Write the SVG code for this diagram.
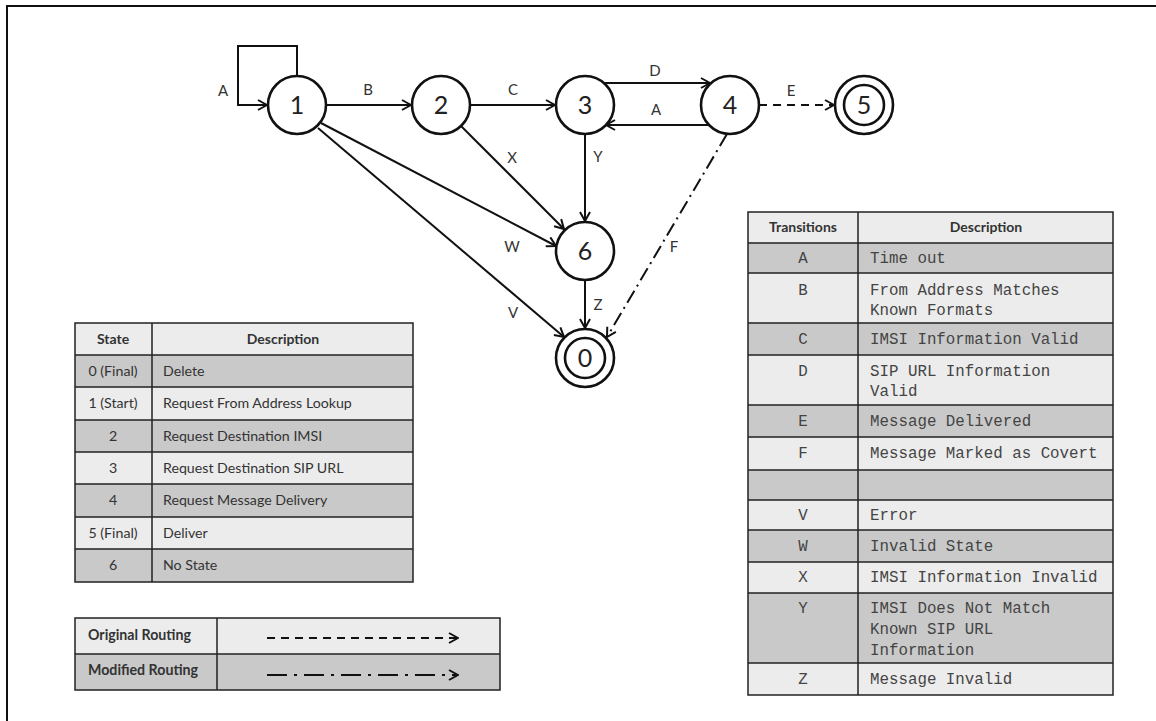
<svg xmlns="http://www.w3.org/2000/svg" width="1156" height="721" viewBox="0 0 1156 721">
<style>
.node{fill:#fff;stroke:#111;stroke-width:2.6}
.nl{font-family:Lato,"Liberation Sans",sans-serif;font-size:25px;fill:#222;text-anchor:middle}
.edge{fill:none;stroke:#111;stroke-width:2}
.dash{stroke-dasharray:8 6}
.dd{stroke-dasharray:14 5 2 5}
.el{font-family:Lato,"Liberation Sans",sans-serif;font-size:15px;fill:#333;text-anchor:middle}
.grid{fill:none;stroke:#222;stroke-width:1.5}
.dark{fill:#c9c9c9}
.light{fill:#ececec}
.st{font-family:Lato,"Liberation Sans",sans-serif;font-size:14.2px;fill:#333}
.sth{font-family:Lato,"Liberation Sans",sans-serif;font-size:14px;font-weight:bold;fill:#333;text-anchor:middle}
.mono{font-family:"Liberation Mono","Courier New",monospace;font-size:15.8px;fill:#444}
.c{text-anchor:middle}
</style>
<defs>
<marker id="arr" viewBox="0 0 12 12" refX="11" refY="6" markerWidth="12" markerHeight="12" markerUnits="userSpaceOnUse" orient="auto">
<path d="M2,1 L11,6 L2,11" fill="none" stroke="#111" stroke-width="2"/>
</marker>
</defs>
<rect width="1156" height="721" fill="#fff"/>
<path d="M7,721 V6 H1156" fill="none" stroke="#111" stroke-width="2"/>

<g id="connectors">
<path class="edge" d="M297,76 V46 H238 V105 H267" marker-end="url(#arr)"/>
<path class="edge" d="M326,105 H411" marker-end="url(#arr)"/>
<path class="edge" d="M471,105 H555" marker-end="url(#arr)"/>
<path class="edge" d="M604,83 H710" marker-end="url(#arr)"/>
<path class="edge" d="M709,125 H606" marker-end="url(#arr)"/>
<path class="edge dash" d="M759,105 H834" marker-end="url(#arr)"/>
<path class="edge" d="M461,126 L564,229" marker-end="url(#arr)"/>
<path class="edge" d="M585,134 V221" marker-end="url(#arr)"/>
<path class="edge" d="M321,123 L556,246" marker-end="url(#arr)"/>
<path class="edge" d="M318,128 L564,337" marker-end="url(#arr)"/>
<path class="edge" d="M585,281 V328" marker-end="url(#arr)"/>
<path class="edge dd" d="M727,134 L607,337" marker-end="url(#arr)"/>
<text class="el" x="223" y="96">A</text>
<text class="el" x="368" y="95">B</text>
<text class="el" x="513" y="95">C</text>
<text class="el" x="655" y="76">D</text>
<text class="el" x="656" y="115">A</text>
<text class="el" x="791" y="96">E</text>
<text class="el" x="512" y="163">X</text>
<text class="el" x="598" y="162">Y</text>
<text class="el" x="512" y="252">W</text>
<text class="el" x="513" y="318">V</text>
<text class="el" x="598" y="310">Z</text>
<text class="el" x="674" y="252">F</text>
</g>

<g id="node1"><circle class="node" cx="297" cy="105" r="29"/><text class="nl" x="297" y="114">1</text></g>
<g id="node2"><circle class="node" cx="441" cy="105" r="29"/><text class="nl" x="441" y="114">2</text></g>
<g id="node3"><circle class="node" cx="585" cy="105" r="29"/><text class="nl" x="585" y="114">3</text></g>
<g id="node4"><circle class="node" cx="730" cy="105" r="29"/><text class="nl" x="730" y="114">4</text></g>
<g id="node5"><circle class="node" cx="864" cy="105" r="29"/><circle class="node" cx="864" cy="105" r="20"/><text class="nl" x="864" y="114">5</text></g>
<g id="node6"><circle class="node" cx="585" cy="251" r="29"/><text class="nl" x="585" y="260">6</text></g>
<g id="node0"><circle class="node" cx="585" cy="358" r="29"/><circle class="node" cx="585" cy="358" r="20"/><text class="nl" x="585" y="367">0</text></g>

<g id="state-table">
<rect class="light" x="75" y="323" width="338" height="32"/>
<rect class="dark" x="75" y="355" width="338" height="32"/>
<rect class="light" x="75" y="387" width="338" height="33"/>
<rect class="dark" x="75" y="420" width="338" height="32"/>
<rect class="light" x="75" y="452" width="338" height="32"/>
<rect class="dark" x="75" y="484" width="338" height="33"/>
<rect class="light" x="75" y="517" width="338" height="32"/>
<rect class="dark" x="75" y="549" width="338" height="33"/>
<path class="grid" d="M75,323 H413 V582 H75 Z M152,323 V582 M75,355 H413 M75,387 H413 M75,420 H413 M75,452 H413 M75,484 H413 M75,517 H413 M75,549 H413"/>
<text class="sth" x="113" y="344">State</text>
<text class="sth" x="283" y="344">Description</text>
<text class="st c" x="113" y="376">0 (Final)</text>
<text class="st c" x="113" y="408">1 (Start)</text>
<text class="st c" x="113" y="441">2</text>
<text class="st c" x="113" y="473">3</text>
<text class="st c" x="113" y="505">4</text>
<text class="st c" x="113" y="538">5 (Final)</text>
<text class="st c" x="113" y="570">6</text>
<text class="st" x="163" y="376">Delete</text>
<text class="st" x="163" y="408">Request From Address Lookup</text>
<text class="st" x="163" y="441">Request Destination IMSI</text>
<text class="st" x="163" y="473">Request Destination SIP URL</text>
<text class="st" x="163" y="505">Request Message Delivery</text>
<text class="st" x="163" y="538">Deliver</text>
<text class="st" x="163" y="570">No State</text>
</g>

<g id="legend">
<rect class="light" x="75" y="618" width="425" height="36"/>
<rect class="dark" x="75" y="654" width="425" height="36"/>
<path class="grid" d="M75,618 H500 V690 H75 Z M217,618 V690 M75,654 H500"/>
<text class="st" x="88" y="640" font-weight="bold">Original Routing</text>
<text class="st" x="88" y="675" font-weight="bold">Modified Routing</text>
<path class="edge dash" d="M267,638 H458" marker-end="url(#arr)"/>
<path class="edge" style="stroke-dasharray:20 7 3 7" d="M267,675 H458" marker-end="url(#arr)"/>
</g>

<g id="transitions-table">
<rect class="light" x="748" y="212" width="365" height="31"/>
<rect class="dark" x="748" y="243" width="365" height="30"/>
<rect class="light" x="748" y="273" width="365" height="50"/>
<rect class="dark" x="748" y="323" width="365" height="32"/>
<rect class="light" x="748" y="355" width="365" height="50"/>
<rect class="dark" x="748" y="405" width="365" height="32"/>
<rect class="light" x="748" y="437" width="365" height="33"/>
<rect class="dark" x="748" y="470" width="365" height="30"/>
<rect class="light" x="748" y="500" width="365" height="30"/>
<rect class="dark" x="748" y="530" width="365" height="32"/>
<rect class="light" x="748" y="562" width="365" height="31"/>
<rect class="dark" x="748" y="593" width="365" height="70"/>
<rect class="light" x="748" y="663" width="365" height="32"/>
<path class="grid" d="M748,212 H1113 V695 H748 Z M858,212 V695 M748,243 H1113 M748,273 H1113 M748,323 H1113 M748,355 H1113 M748,405 H1113 M748,437 H1113 M748,470 H1113 M748,500 H1113 M748,530 H1113 M748,562 H1113 M748,593 H1113 M748,663 H1113"/>
<text class="sth" x="803" y="232" font-weight="normal">Transitions</text>
<text class="sth" x="986" y="232" font-weight="normal">Description</text>
<text class="mono c" x="803" y="263">A</text><text class="mono" x="870" y="263">Time out</text>
<text class="mono c" x="803" y="295">B</text><text class="mono" x="870" y="295">From Address Matches</text><text class="mono" x="870" y="315">Known Formats</text>
<text class="mono c" x="803" y="344">C</text><text class="mono" x="870" y="344">IMSI Information Valid</text>
<text class="mono c" x="803" y="376">D</text><text class="mono" x="870" y="376">SIP URL Information</text><text class="mono" x="870" y="396">Valid</text>
<text class="mono c" x="803" y="426">E</text><text class="mono" x="870" y="426">Message Delivered</text>
<text class="mono c" x="803" y="458">F</text><text class="mono" x="870" y="458">Message Marked as Covert</text>
<text class="mono c" x="803" y="520">V</text><text class="mono" x="870" y="520">Error</text>
<text class="mono c" x="803" y="551">W</text><text class="mono" x="870" y="551">Invalid State</text>
<text class="mono c" x="803" y="582">X</text><text class="mono" x="870" y="582">IMSI Information Invalid</text>
<text class="mono c" x="803" y="613">Y</text><text class="mono" x="870" y="613">IMSI Does Not Match</text><text class="mono" x="870" y="634">Known SIP URL</text><text class="mono" x="870" y="655">Information</text>
<text class="mono c" x="803" y="684">Z</text><text class="mono" x="870" y="684">Message Invalid</text>
</g>
</svg>
